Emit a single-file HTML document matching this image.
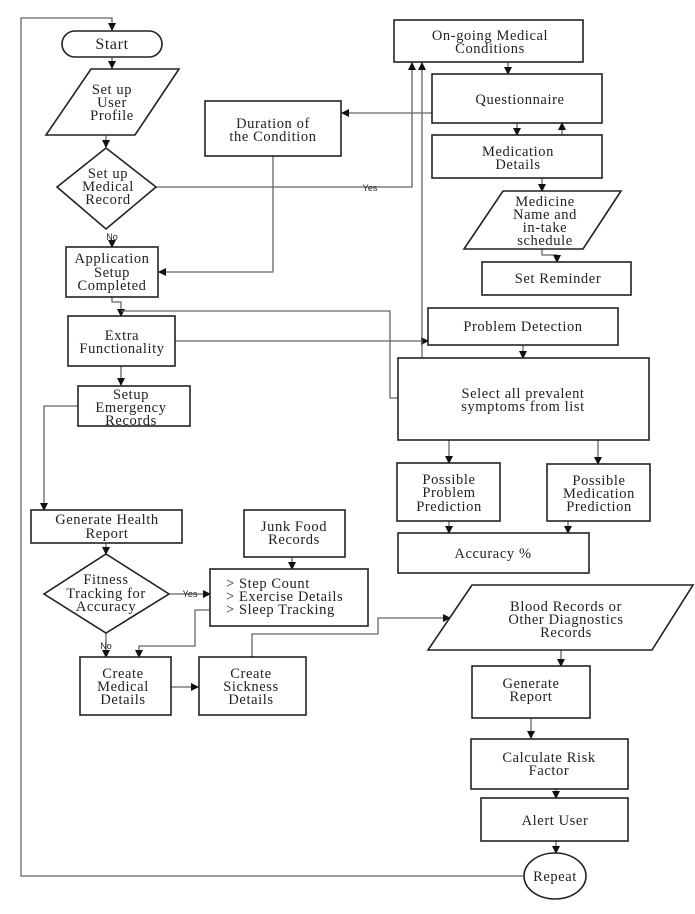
<!DOCTYPE html>
<html><head><meta charset="utf-8"><style>
html,body{margin:0;padding:0;background:#fff;}
svg{display:block;}
text{font-family:"Liberation Serif",serif;font-size:14.5px;fill:#222;text-anchor:middle;letter-spacing:0.6px;}
.s{font-family:"Liberation Sans",sans-serif;font-size:9px;letter-spacing:0;}
.b{fill:#fff;stroke:#222;stroke-width:1.6;}
.l{fill:none;stroke:#666;stroke-width:1.3;}
</style></head><body>
<svg width="695" height="914" viewBox="0 0 695 914" xmlns="http://www.w3.org/2000/svg">
<defs><marker id="a" markerWidth="8" markerHeight="8" refX="7" refY="4" orient="auto" markerUnits="userSpaceOnUse"><path d="M0,0 L8,4 L0,8 z" fill="#111"/></marker></defs>

<path class="l" d="M524,876 H21 V18 H112 V30" marker-end="url(#a)"/>
<path class="l" d="M112,57 V68" marker-end="url(#a)"/>
<path class="l" d="M106,135 V147" marker-end="url(#a)"/>
<path class="l" d="M112,240 V247" marker-end="url(#a)"/>
<path class="l" d="M156,187 H412 V63" marker-end="url(#a)"/>
<path class="l" d="M432,113 H342" marker-end="url(#a)"/>
<path class="l" d="M273,156 V272 H159" marker-end="url(#a)"/>
<path class="l" d="M112,297 V302 H121 V316" marker-end="url(#a)"/>
<path class="l" d="M121,311 H390 V398 H398"/>
<path class="l" d="M175,341 H428" marker-end="url(#a)"/>
<path class="l" d="M422,358 V63" marker-end="url(#a)"/>
<path class="l" d="M121,366 V385" marker-end="url(#a)"/>
<path class="l" d="M78,406 H44 V510" marker-end="url(#a)"/>
<path class="l" d="M508,62 V74" marker-end="url(#a)"/>
<path class="l" d="M517,123 V135" marker-end="url(#a)"/>
<path class="l" d="M562,135 V123" marker-end="url(#a)"/>
<path class="l" d="M542,178 V191" marker-end="url(#a)"/>
<path class="l" d="M542,249 V255 H557 V262" marker-end="url(#a)"/>
<path class="l" d="M523,345 V358" marker-end="url(#a)"/>
<path class="l" d="M449,440 V463" marker-end="url(#a)"/>
<path class="l" d="M598,440 V464" marker-end="url(#a)"/>
<path class="l" d="M449,521 V533" marker-end="url(#a)"/>
<path class="l" d="M568,521 V533" marker-end="url(#a)"/>
<path class="l" d="M106,543 V554" marker-end="url(#a)"/>
<path class="l" d="M292,557 V569" marker-end="url(#a)"/>
<path class="l" d="M169,594 H210" marker-end="url(#a)"/>
<path class="l" d="M106,633 V657" marker-end="url(#a)"/>
<path class="l" d="M210,610 H195 V646 H139 V657" marker-end="url(#a)"/>
<path class="l" d="M171,687 H198" marker-end="url(#a)"/>
<path class="l" d="M252,657 V634 H378 V618 H450" marker-end="url(#a)"/>
<path class="l" d="M561,650 V666" marker-end="url(#a)"/>
<path class="l" d="M531,718 V738" marker-end="url(#a)"/>
<path class="l" d="M556,789 V798" marker-end="url(#a)"/>
<path class="l" d="M556,841 V853" marker-end="url(#a)"/>

<rect class="b" x="62" y="31" width="100" height="26" rx="13"/>
<polygon class="b" points="91,69 179,69 135,135 46,135"/>
<polygon class="b" points="106,148 156,187 106,229 57,187"/>
<rect class="b" x="66" y="247" width="92" height="50"/>
<rect class="b" x="205" y="101" width="136" height="55"/>
<rect class="b" x="68" y="316" width="107" height="50"/>
<rect class="b" x="78" y="386" width="112" height="40"/>
<rect class="b" x="394" y="20" width="189" height="42"/>
<rect class="b" x="432" y="74" width="170" height="49"/>
<rect class="b" x="432" y="135" width="170" height="43"/>
<polygon class="b" points="503,191 621,191 583,249 464,249"/>
<rect class="b" x="482" y="262" width="149" height="33"/>
<rect class="b" x="428" y="308" width="190" height="37"/>
<rect class="b" x="398" y="358" width="251" height="82"/>
<rect class="b" x="397" y="463" width="103" height="58"/>
<rect class="b" x="547" y="464" width="103" height="57"/>
<rect class="b" x="398" y="533" width="191" height="40"/>
<rect class="b" x="31" y="510" width="151" height="33"/>
<rect class="b" x="244" y="510" width="101" height="47"/>
<rect class="b" x="210" y="569" width="158" height="57"/>
<polygon class="b" points="106,554 169,594 106,633 44,594"/>
<rect class="b" x="80" y="657" width="91" height="58"/>
<rect class="b" x="199" y="657" width="107" height="58"/>
<polygon class="b" points="472,585 693,585 652,650 428,650"/>
<rect class="b" x="472" y="666" width="118" height="52"/>
<rect class="b" x="471" y="739" width="157" height="50"/>
<rect class="b" x="481" y="798" width="147" height="43"/>
<ellipse class="b" cx="555" cy="876" rx="31" ry="23"/>

<text x="112" y="49" style="font-size:16px">Start</text>
<text x="112" y="94">Set up</text><text x="112" y="107">User</text><text x="112" y="120">Profile</text>
<text x="108" y="178">Set up</text><text x="108" y="191">Medical</text><text x="108" y="204">Record</text>
<text class="s" x="112" y="240">No</text>
<text x="112" y="263">Application</text><text x="112" y="277">Setup</text><text x="112" y="290">Completed</text>
<text x="273" y="128">Duration of</text><text x="273" y="141">the Condition</text>
<text x="122" y="340">Extra</text><text x="122" y="353">Functionality</text>
<text x="131" y="399">Setup</text><text x="131" y="412">Emergency</text><text x="131" y="425">Records</text>
<text class="s" x="370" y="191">Yes</text>
<text x="490" y="40">On-going Medical</text><text x="490" y="53">Conditions</text>
<text x="520" y="104">Questionnaire</text>
<text x="518" y="156">Medication</text><text x="518" y="169">Details</text>
<text x="545" y="206">Medicine</text><text x="545" y="219">Name and</text><text x="545" y="232">in-take</text><text x="545" y="245">schedule</text>
<text x="558" y="283">Set Reminder</text>
<text x="523" y="331">Problem Detection</text>
<text x="523" y="398">Select all prevalent</text><text x="523" y="411">symptoms from list</text>
<text x="449" y="484">Possible</text><text x="449" y="497">Problem</text><text x="449" y="511">Prediction</text>
<text x="599" y="485">Possible</text><text x="599" y="498">Medication</text><text x="599" y="511">Prediction</text>
<text x="493" y="558">Accuracy %</text>
<text x="107" y="524">Generate Health</text><text x="107" y="538">Report</text>
<text x="294" y="531">Junk Food</text><text x="294" y="544">Records</text>
<text x="226" y="588" style="text-anchor:start">&gt; Step Count</text>
<text x="226" y="601" style="text-anchor:start">&gt; Exercise Details</text>
<text x="226" y="614" style="text-anchor:start">&gt; Sleep Tracking</text>
<text x="106" y="584">Fitness</text><text x="106" y="598">Tracking for</text><text x="106" y="611">Accuracy</text>
<text class="s" x="190" y="597">Yes</text>
<text class="s" x="106" y="649">No</text>
<text x="123" y="678">Create</text><text x="123" y="691">Medical</text><text x="123" y="704">Details</text>
<text x="251" y="678">Create</text><text x="251" y="691">Sickness</text><text x="251" y="704">Details</text>
<text x="566" y="611">Blood Records or</text><text x="566" y="624">Other Diagnostics</text><text x="566" y="637">Records</text>
<text x="531" y="688">Generate</text><text x="531" y="701">Report</text>
<text x="549" y="762">Calculate Risk</text><text x="549" y="775">Factor</text>
<text x="555" y="825">Alert User</text>
<text x="555" y="881">Repeat</text>
</svg>
</body></html>
